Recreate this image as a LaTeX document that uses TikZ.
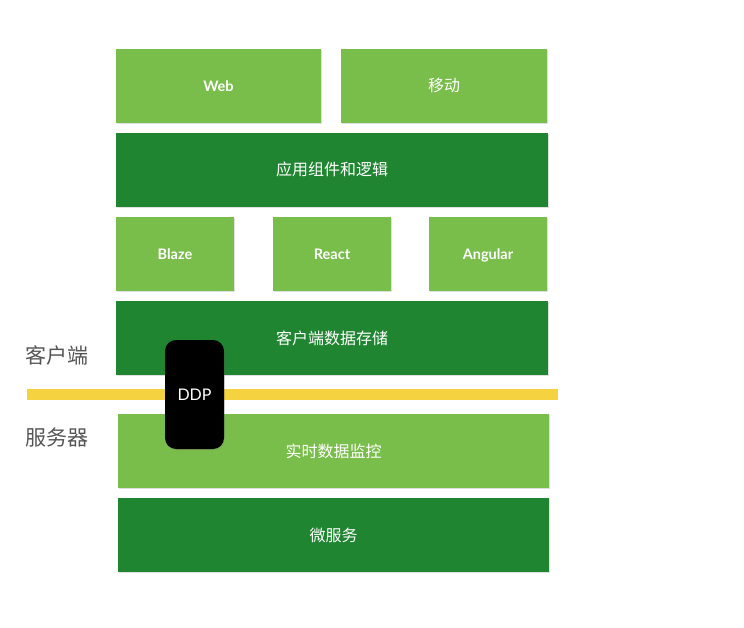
\documentclass[tikz,border=0pt]{standalone}
\usepackage{fontspec}
\setmainfont{Lato}
\newfontfamily\cjk{Noto Sans CJK SC}
\usetikzlibrary{shadows}
\definecolor{lgreen}{HTML}{79BD4A}
\definecolor{dgreen}{HTML}{1F8531}
\definecolor{barYellow}{HTML}{F5D340}
\definecolor{labgray}{HTML}{555555}
\newcommand{\zh}[1]{{\mdseries\cjk\fontsize{16}{18}\selectfont #1}}
\begin{document}
\begin{tikzpicture}[x=1pt,y=-1pt,
  box/.style={draw=none,minimum height=74pt,inner sep=0pt,text=white,font=\bfseries\fontsize{14.5}{17}\selectfont,
    text height=12pt,text depth=0pt,
    drop shadow={shadow xshift=0.6pt,shadow yshift=-0.8pt,opacity=0.25}},
  lbox/.style={box,fill=lgreen},
  dbox/.style={box,fill=dgreen},
  side/.style={text=labgray,font=\cjk\fontsize{21}{23}\selectfont,inner sep=0pt}]
\useasboundingbox (0,0) rectangle (744,628);
\node[lbox,minimum width=205pt] (web) at (218.5,86) {Web};
\node[lbox,minimum width=206pt] (mob) at (444,86) {\zh{移动}};
\node[dbox,minimum width=432pt] (app) at (332,170) {\zh{应用组件和逻辑}};
\node[lbox,minimum width=118pt] (blaze) at (175,254) {Blaze};
\node[lbox,minimum width=118pt] (react) at (332,254) {React};
\node[lbox,minimum width=118pt] (ang) at (488,254) {Angular};
\node[dbox,minimum width=432pt] (store) at (332,338) {\zh{客户端数据存储}};
\fill[fill=barYellow] (27,389) rectangle (558,400);
\node[lbox,minimum width=431pt] (rt) at (333.5,451) {\zh{实时数据监控}};
\node[dbox,minimum width=431pt] (micro) at (333.5,535) {\zh{微服务}};
\node[fill=black,rounded corners=11pt,minimum width=59pt,minimum height=109pt,inner sep=0pt,text=white,
  font=\fontsize{16}{18}\selectfont,text height=12pt,text depth=0pt,
  drop shadow={shadow xshift=0.6pt,shadow yshift=-1pt,opacity=0.3}] (ddp) at (194.5,394.5) {DDP};
\node[side,anchor=west] (cli) at (25,355) {客户端};
\node[side,anchor=west] (srv) at (25,438) {服务器};
\end{tikzpicture}
\end{document}
